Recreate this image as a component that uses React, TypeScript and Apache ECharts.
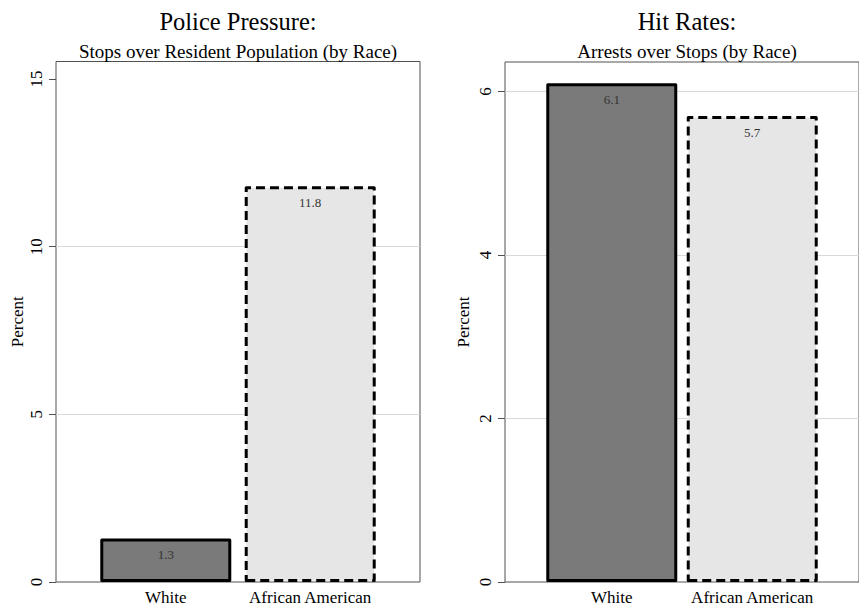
import React, { useEffect, useRef } from "react";
import * as echarts from "echarts";

const categories = ["White", "African American"];
const pressureValues = [1.3, 11.8];
const hitRateValues = [6.1, 5.7];
const pressureTicks = [0, 5, 10, 15];
const hitRateTicks = [0, 2, 4, 6];
const pressureGridLines = [5, 10];
const hitRateGridLines = [2, 4, 6];
const titles = ["Police Pressure:", "Hit Rates:"];
const subtitles = ["Stops over Resident Population (by Race)", "Arrests over Stops (by Race)"];
const yAxisName = "Percent";

const SERIF = "'Liberation Serif', 'DejaVu Serif', serif";

const barStyles = [
  { color: "#7a7a7a", borderColor: "#000", borderWidth: 3, borderType: "solid" },
  { color: "#e6e6e6", borderColor: "#000", borderWidth: 3, borderType: [9, 5] },
];

export default function App() {
  const ref = useRef<HTMLDivElement>(null);
  useEffect(() => {
    if (!ref.current) return;
    const chart = echarts.init(ref.current, undefined, { renderer: "svg" });

    const grids = [
      { left: 56, top: 61.5, width: 364, height: 520.5 },
      { left: 505, top: 62, width: 364, height: 520 },
    ];
    const yMax = [15.52, 6.36];
    const ticks = [pressureTicks, hitRateTicks];
    const values = [pressureValues, hitRateValues];
    const gridLines = [pressureGridLines, hitRateGridLines];
    const nameGaps = [30, 33];

    const option: any = {
      animation: false,
      backgroundColor: "#fff",
      grid: grids.map((g) => ({
        ...g,
        show: true,
        borderColor: "#505050",
        borderWidth: 1,
        backgroundColor: "transparent",
        containLabel: false,
      })),
      xAxis: [0, 1].map((i) => ({
        type: "value",
        gridIndex: i,
        min: -0.76,
        max: 1.76,
        axisLine: { show: false, onZero: false },
        axisTick: { show: false },
        splitLine: { show: false },
        axisLabel: {
          customValues: categories.map((_, k) => k),
          formatter: (v: number) => categories[Math.round(v)] ?? "",
          fontFamily: SERIF,
          fontSize: 17,
          color: "#000",
          margin: 7,
        },
      })),
      yAxis: [0, 1].map((i) => ({
        type: "value",
        gridIndex: i,
        min: 0,
        max: yMax[i],
        name: yAxisName,
        nameLocation: "middle",
        nameRotate: 90,
        nameGap: nameGaps[i],
        nameTextStyle: { fontFamily: SERIF, fontSize: 17, color: "#000" },
        axisLine: { show: false, onZero: false },
        axisTick: {
          show: true,
          length: 7,
          customValues: ticks[i],
          lineStyle: { color: "#505050", width: 1 },
        },
        splitLine: { show: false },
        axisLabel: {
          customValues: ticks[i],
          rotate: 90,
          fontFamily: SERIF,
          fontSize: 17,
          color: "#000",
          margin: 11,
        },
      })),
      series: [0, 1].flatMap((i) => [
        {
          type: "line",
          xAxisIndex: i,
          yAxisIndex: i,
          data: [],
          z: 1,
          markLine: {
            silent: true,
            symbol: "none",
            z: 1,
            label: { show: false },
            lineStyle: { color: "#d8d8d8", width: 1, type: "solid" },
            data: gridLines[i].map((v) => ({ yAxis: v })),
          },
        },
        {
          type: "bar",
          xAxisIndex: i,
          yAxisIndex: i,
          z: 3,
          barWidth: 131,
          data: values[i].map((v, k) => ({
            value: [k, v],
            itemStyle: { ...barStyles[k], borderJoin: "round" },
          })),
          label: {
            show: true,
            position: "insideTop",
            distance: 10,
            fontFamily: SERIF,
            fontSize: 13,
            color: "#333",
            formatter: (p: any) => Number(p.value[1]).toFixed(1),
          },
        },
      ]),
      graphic: [0, 1].flatMap((i) => {
        const cx = grids[i].left + grids[i].width / 2;
        return [
          {
            type: "text",
            x: cx,
            y: 21,
            style: {
              text: titles[i],
              align: "center",
              verticalAlign: "middle",
              fontFamily: SERIF,
              fontSize: 24.5,
              fill: "#000",
            },
          },
          {
            type: "text",
            x: cx,
            y: 51,
            style: {
              text: subtitles[i],
              align: "center",
              verticalAlign: "middle",
              fontFamily: SERIF,
              fontSize: 19,
              fill: "#000",
            },
          },
        ];
      }),
    };
    chart.setOption(option);
    return () => chart.dispose();
  }, []);
  return (
    <div
      ref={ref}
      style={{ position: "fixed", left: 0, top: 0, width: 859, height: 606, background: "#fff" }}
    />
  );
}
